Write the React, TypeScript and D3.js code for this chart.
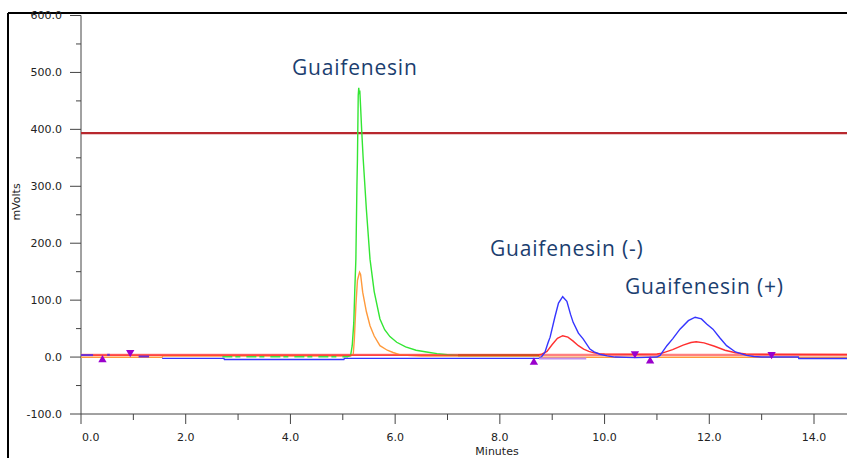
import React from 'react';
import * as d3 from 'd3';

const W = 847;
const H = 458;

// axis ticks
const xMajorTicks = [0, 2, 4, 6, 8, 10, 12, 14];
const xMinorTicks = [1, 3, 5, 7, 9, 11, 13];
const yMajorTicks = [-100, 0, 100, 200, 300, 400, 500, 600];
const yMinorTicks = [-50, 50, 150, 250, 350, 450, 550];

// threshold line (mV)
const thresholdValue = [393.5];

// traces: [minutes, mVolts]
const pinkBaseline: [number, number][] = [[0, 3.8], [14.8, 3.8]];

const orangeTrace: [number, number][] = [
  [0, -0.3], [1.55, -0.3], [1.56, 2], [5.15, 2], [5.2, 5], [5.22, 30], [5.25, 90], [5.28, 135],
  [5.32, 149], [5.34, 145], [5.38, 114], [5.45, 80], [5.52, 55], [5.6, 37], [5.71, 20],
  [5.85, 12], [5.96, 8], [6.1, 4], [6.3, 2.5], [6.5, 2], [8.75, 2], [8.76, -0.3], [14.8, -0.3],
];

const greenDashed: [number, number][] = [[2.7, 0.5], [5.1, 0.8]];

const greenTrace: [number, number][] = [
  [5.1, 1], [5.15, 3], [5.18, 20], [5.21, 60], [5.23, 120], [5.25, 172], [5.27, 300],
  [5.28, 348], [5.295, 460], [5.305, 473], [5.315, 462], [5.325, 468], [5.34, 440],
  [5.36, 400], [5.39, 348], [5.45, 260], [5.52, 172], [5.6, 115], [5.71, 67], [5.8, 48],
  [5.9, 36], [6.03, 26], [6.2, 18], [6.4, 12], [6.6, 9], [6.8, 6], [7.0, 4], [7.2, 3],
];

const oliveTrace: [number, number][] = [[7.2, 3], [8.75, 3]];

const redTrace: [number, number][] = [
  [0, 3.5], [8.7, 3.5], [8.8, 5], [8.9, 10], [9.0, 22], [9.1, 33], [9.2, 37.5], [9.3, 35],
  [9.4, 28], [9.5, 20], [9.6, 14], [9.7, 10], [9.8, 7.5], [9.9, 6], [10.0, 5.5], [10.6, 5],
  [11.0, 5.5], [11.1, 7], [11.3, 13], [11.5, 21], [11.65, 25.5], [11.75, 27], [11.9, 25],
  [12.1, 19], [12.3, 12], [12.5, 7.5], [12.7, 5.5], [13.0, 5], [14.8, 4.5],
];

const blueTrace: [number, number][] = [
  [1.55, -2.3], [2.73, -2.3], [2.74, -4.3], [5.02, -4.3], [5.03, -2.3], [8.75, -2.3],
  [8.8, 1], [8.86, 8], [8.92, 25], [8.96, 35], [9.05, 70], [9.12, 95], [9.2, 106],
  [9.28, 98], [9.35, 75], [9.4, 61], [9.5, 42], [9.59, 32], [9.72, 14], [9.8, 9],
  [9.91, 5], [10.05, 2], [10.2, 0], [10.6, -1], [11.0, 0], [11.06, 3], [11.19, 20],
  [11.3, 32], [11.44, 49], [11.6, 64], [11.73, 70], [11.85, 67], [11.95, 58], [12.07, 49],
  [12.2, 34], [12.33, 20], [12.5, 9], [12.71, 3], [12.85, 1], [13.0, 0], [13.7, 0],
  [13.71, -2.5], [14.8, -2.5],
];

const purpleSegments: [number, number][][] = [
  [[0, 3.5], [0.23, 3.5]],
  [[0.5, 4], [0.55, 4]],
  [[1.1, 1], [1.3, 1]],
];

const lavenderSegments: [number, number][][] = [
  [[8.75, -2.3], [9.65, -2.3]],
];

const upMarkers: [number, number][] = [[0.41, -5], [8.65, -9.3], [10.87, -7]];
const downMarkers: [number, number][] = [[0.94, 8.3], [10.58, 5.8], [13.19, 4.7]];

const peakLabels = [
  { text: 'Guaifenesin', x: 292, y: 75 },
  { text: 'Guaifenesin (-)', x: 490, y: 256 },
  { text: 'Guaifenesin (+)', x: 625, y: 294 },
];

const xScale = d3.scaleLinear().domain([0, 14]).range([81, 814]);
const yScale = d3.scaleLinear().domain([-100, 600]).range([414, 15.5]);

const line = d3
  .line<[number, number]>()
  .x((d) => xScale(d[0]))
  .y((d) => yScale(d[1]));

const fmt = (v: number) => d3.format('.1f')(v).replace('\u2212', '-');

export default function App() {
  const axisColor = '#444';
  const tickFont = { fontFamily: 'DejaVu Sans', fontSize: 11, fill: '#222' } as const;
  const triUp = d3.symbol().type(d3.symbolTriangle).size(30)() as string;
  return (
    <svg
      width={W}
      height={H}
      style={{ position: 'absolute', left: 0, top: 0, display: 'block', background: '#fff' }}
    >
      <defs>
        <clipPath id="plot">
          <rect x={81} y={15} width={W - 81} height={399} />
        </clipPath>
      </defs>
      {/* frame */}
      <line x1={8} y1={13} x2={W} y2={13} stroke="#000" strokeWidth={2} />
      <line x1={8} y1={13} x2={8} y2={H} stroke="#000" strokeWidth={2} />

      {/* y axis */}
      <line x1={81} y1={yScale(600)} x2={81} y2={yScale(-100)} stroke={axisColor} strokeWidth={1} />
      {yMajorTicks.map((v) => (
        <g key={'ym' + v}>
          <line x1={70} x2={81} y1={yScale(v)} y2={yScale(v)} stroke={axisColor} />
          <text x={62} y={yScale(v)} dy="0.35em" textAnchor="end" style={tickFont}>
            {fmt(v)}
          </text>
        </g>
      ))}
      {yMinorTicks.map((v) => (
        <line key={'yn' + v} x1={76} x2={81} y1={yScale(v)} y2={yScale(v)} stroke={axisColor} />
      ))}
      <text
        transform={`translate(20,${202}) rotate(-90)`}
        textAnchor="middle"
        style={{ fontFamily: 'DejaVu Sans', fontSize: 11, fill: '#222' }}
      >
        mVolts
      </text>

      {/* x axis */}
      <line x1={81} y1={414} x2={W} y2={414} stroke={axisColor} strokeWidth={1} />
      {xMajorTicks.map((t, i) => (
        <g key={'xm' + t}>
          <line x1={xScale(t)} x2={xScale(t)} y1={414} y2={424} stroke={axisColor} />
          <text
            x={i === 0 ? xScale(t) + 1 : xScale(t)}
            y={441}
            textAnchor={i === 0 ? 'start' : 'middle'}
            style={tickFont}
          >
            {fmt(t)}
          </text>
        </g>
      ))}
      {xMinorTicks.map((t) => (
        <line key={'xn' + t} x1={xScale(t)} x2={xScale(t)} y1={414} y2={420} stroke={axisColor} />
      ))}
      <text x={497} y={455} textAnchor="middle" style={{ fontFamily: 'DejaVu Sans', fontSize: 11, fill: '#222' }}>
        Minutes
      </text>

      <g clipPath="url(#plot)" fill="none">
        {/* threshold */}
        {thresholdValue.map((v) => (
          <line key={'th' + v} x1={81} x2={W} y1={yScale(v)} y2={yScale(v)} stroke="#b8282e" strokeWidth={2.2} />
        ))}
        <path d={line(pinkBaseline) || ''} stroke="#ff8080" strokeWidth={2.4} />
        <path d={line(orangeTrace) || ''} stroke="#ff9a3c" strokeWidth={1.4} />
        <path d={line(greenDashed) || ''} stroke="#3ee03e" strokeWidth={1.6} strokeDasharray="10 3 5 6" />
        <path d={line(greenTrace) || ''} stroke="#33e633" strokeWidth={1.4} />
        <path d={line(oliveTrace) || ''} stroke="#7a7a00" strokeWidth={2} />
        <path d={line(redTrace) || ''} stroke="#ff3030" strokeWidth={1.4} />
        <path d={line(blueTrace) || ''} stroke="#3535ff" strokeWidth={1.4} />
        {lavenderSegments.map((s, i) => (
          <path key={'lv' + i} d={line(s) || ''} stroke="#c08ef0" strokeWidth={2} />
        ))}
        {purpleSegments.map((s, i) => (
          <path key={'pp' + i} d={line(s) || ''} stroke="#6a2fd6" strokeWidth={2} />
        ))}
        {upMarkers.map((m, i) => (
          <path
            key={'up' + i}
            d={triUp}
            transform={`translate(${xScale(m[0])},${yScale(m[1])})`}
            fill="#9a00cc"
          />
        ))}
        {downMarkers.map((m, i) => (
          <path
            key={'dn' + i}
            d={triUp}
            transform={`translate(${xScale(m[0])},${yScale(m[1])}) rotate(180)`}
            fill="#9a00cc"
          />
        ))}
      </g>

      {peakLabels.map((l) => (
        <text
          key={l.text}
          x={l.x}
          y={l.y}
          style={{ fontFamily: 'Open Sans', fontSize: 21, fill: '#1b3e6f', letterSpacing: 0.8 }}
        >
          {l.text}
        </text>
      ))}
    </svg>
  );
}
